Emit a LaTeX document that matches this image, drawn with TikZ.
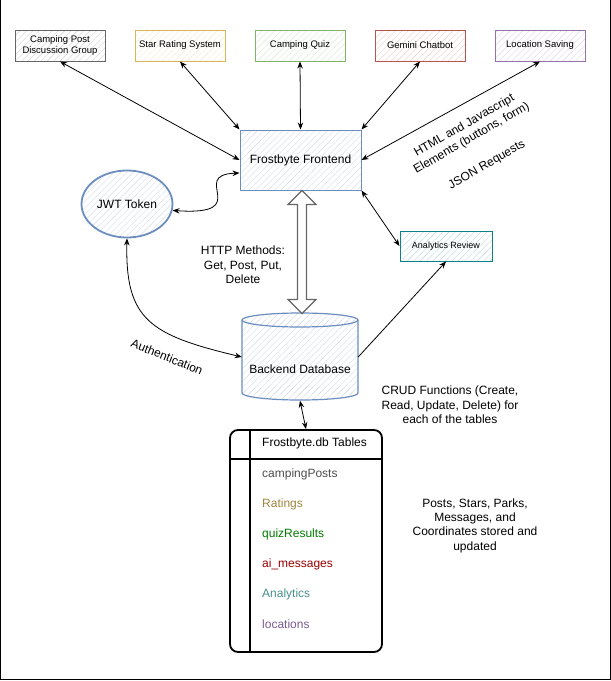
\documentclass[tikz,border=0pt]{standalone}
\usepackage{fontspec}
\setmainfont{Liberation Sans}
\usetikzlibrary{arrows.meta,patterns.meta,shapes.geometric,calc}
\definecolor{greyS}{HTML}{666666}
\definecolor{yelS}{HTML}{D6B656}
\definecolor{grnS}{HTML}{82B366}
\definecolor{redS}{HTML}{B85450}
\definecolor{purS}{HTML}{9673A6}
\definecolor{bluS}{HTML}{6C8EBF}
\definecolor{tealS}{HTML}{0E8088}
\definecolor{cPosts}{HTML}{4D4D4D}
\definecolor{cRatings}{HTML}{9C8540}
\definecolor{cQuiz}{HTML}{007A00}
\definecolor{cAi}{HTML}{990000}
\definecolor{cAna}{HTML}{4A8F8F}
\definecolor{cLoc}{HTML}{7A5C8F}
\tikzset{
  hatch/.style={preaction={fill=white},preaction={pattern={Lines[angle=45,distance=4.5pt,line width=0.4pt]},pattern color=#1!30}},
  topbox/.style={draw=#1, line width=1pt, hatch=#1, minimum width=90pt, minimum height=31pt, inner sep=1pt, align=center, font=\fontsize{9.5}{11.5}\selectfont},
  txt/.style={font=\fontsize{12}{14.4}\selectfont, align=center, inner sep=0pt},
  rowtxt/.style={font=\fontsize{12}{14.4}\selectfont, anchor=west, inner sep=0pt},
  conn/.style={{Stealth[length=7pt,width=5.5pt]}-{Stealth[length=7pt,width=5.5pt]}, line width=0.8pt},
  conn1/.style={-{Stealth[length=7pt,width=5.5pt]}, line width=0.8pt},
}
\begin{document}
\begin{tikzpicture}[x=1pt,y=-1pt]
\useasboundingbox (0,0) rectangle (611,681);
% frame
\draw[line width=1pt] (0.5,0) -- (0.5,679.5) -- (610,679.5) -- (610,0);

% top boxes
\node[topbox=greyS] (cp) at (60,45.5) {Camping Post\\Discussion Group};
\node[topbox=yelS] (sr) at (180,45.5) {Star Rating System};
\node[topbox=grnS] (cq) at (300,45.5) {Camping Quiz};
\node[topbox=redS] (gc) at (420,45.5) {Gemini Chatbot};
\node[topbox=purS] (ls) at (540,45.5) {Location Saving};

% frontend
\node[draw=bluS, line width=1pt, hatch=bluS, minimum width=121pt, minimum height=60pt, font=\fontsize{12}{14.4}\selectfont] (fe) at (300.5,160) {Frostbyte Frontend};

% JWT
\node[ellipse, draw=bluS, line width=1.8pt, hatch=bluS, minimum width=91pt, minimum height=67pt, inner sep=0pt, font=\fontsize{12}{14.4}\selectfont] (jwt) at (127,204) {JWT Token};

% analytics
\node[topbox=tealS, minimum width=92pt, minimum height=30pt, font=\fontsize{9}{11}\selectfont] (ar) at (446,246) {Analytics Review};

% backend database (cylinder)
\node[minimum width=116pt, minimum height=87pt, inner sep=0pt] (db) at (300,357) {};
\fill[white] (242,320) rectangle (358,393);
\fill[white] (300,393) ellipse[x radius=58pt, y radius=7pt];
\fill[white] (300,320) ellipse[x radius=58pt, y radius=7pt];
\path[pattern={Lines[angle=45,distance=4.5pt,line width=0.4pt]}, pattern color=bluS!30] (242,320) rectangle (358,393);
\path[pattern={Lines[angle=45,distance=4.5pt,line width=0.4pt]}, pattern color=bluS!30] (300,393) ellipse[x radius=58pt, y radius=7pt];
\path[pattern={Lines[angle=45,distance=4.5pt,line width=0.4pt]}, pattern color=bluS!30] (300,320) ellipse[x radius=58pt, y radius=7pt];
\draw[bluS, line width=1.2pt] (300,320) ellipse[x radius=58pt, y radius=7pt];
\draw[bluS, line width=1.2pt] (242,320) -- (242,393) arc[start angle=180, end angle=360, x radius=58pt, y radius=7pt] -- (358,320);
\node[txt] (dbt) at (300,369) {Backend Database};

% table
\node[draw, line width=1.8pt, rounded corners=8pt, minimum width=152pt, minimum height=222pt, inner sep=0pt] (tbl) at (306,541) {};
\draw[line width=1.8pt] ($(tbl.north west)+(0,30)$) -- ($(tbl.north east)+(0,30)$);
\draw[line width=1.8pt] ($(tbl.north west)+(21,0)$) -- ($(tbl.south west)+(21,0)$);
\node[rowtxt] (th) at (262,443) {Frostbyte.db Tables};
\node[rowtxt, text=cPosts] (r1) at (262,474) {campingPosts};
\node[rowtxt, text=cRatings] (r2) at (262,504) {Ratings};
\node[rowtxt, text=cQuiz] (r3) at (262,534) {quizResults};
\node[rowtxt, text=cAi] (r4) at (262,564) {ai\_messages};
\node[rowtxt, text=cAna] (r5) at (262,594) {Analytics};
\node[rowtxt, text=cLoc] (r6) at (262,624) {locations};

% block arrow
\draw[line width=1.2pt, draw=black!60, fill=white] ($(fe.south)+(1.5,0)$) -- ++(14,14) -- ++(-9.5,0) -- ++(0,95) -- ++(9.5,0) -- ++(-14,14) -- ++(-14,-14) -- ++(9.5,0) -- ++(0,-95) -- ++(-9.5,0) -- cycle;

% connectors
\draw[conn] (cp.south) -- (fe.west);
\draw[conn] (sr.south) -- (fe.north west);
\draw[conn] (cq.south) -- (fe.north);
\draw[conn] (gc.south) -- (fe.north east);
\draw[conn] (ls.south) -- (fe.east);
\draw[conn] (fe.south east) -- (ar.west);
\draw[conn1] (db.east) -- (ar.south);
\draw[conn] (jwt.-8) .. controls (255,216) and (188,175) .. ($(fe.west)+(0,13)$);
\draw[conn] (jwt.south) .. controls (125,320) and (150,335) .. (db.west);
\draw[conn] (db.south) -- (tbl.north);

% labels
\node[txt] (http) at (243,265) {HTTP Methods:\\Get, Post, Put,\\Delete};
\node[txt, rotate=-22] (auth) at (167,357) {Authentication};
\node[txt, rotate=30] (html) at (468,132) {HTML and Javascript\\Elements (buttons, form)};
\node[txt, rotate=30] (json) at (487,165) {JSON Requests};
\node[txt] (crud) at (450,405) {CRUD Functions (Create,\\Read, Update, Delete) for\\each of the tables};
\node[txt] (posts) at (475,525.5) {Posts, Stars, Parks,\\Messages, and\\Coordinates stored and\\updated};
\end{tikzpicture}
\end{document}
